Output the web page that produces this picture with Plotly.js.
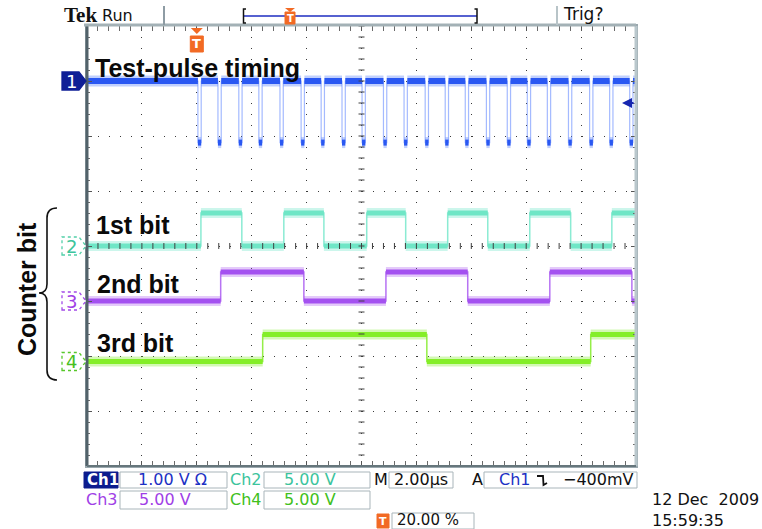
<!DOCTYPE html>
<html><head><meta charset="utf-8">
<script src="https://cdn.plot.ly/plotly-3.0.1.min.js"></script>
<style>html,body{margin:0;padding:0;background:#fff;}#chart{width:762px;height:529px;}</style>
</head><body><div id="chart"></div>
<script>
// ---- data (time in µs, trigger at 0; 2 µs/div; 20 % pre-trigger) ----
const timeRange = [-4, 16];
// Ch1 "Test-pulse timing": falling-edge times of the pulses (µs)
const ch1PulseTimes = [0.04, 0.77, 1.53, 2.26, 3.03, 3.80, 4.53, 5.29, 6.02, 6.80, 7.55,
                       8.32, 9.05, 9.78, 10.55, 11.31, 12.04, 12.77, 13.54, 14.31, 15.04, 15.77];
const ch1PulseWidth = 0.12;          // µs
const ch1Levels = [0, -1.12];        // V  (baseline, pulse bottom) 1 V/div
// Counter bits: transition times (µs), start low
const ch2Edges = [0.15, 1.64, 3.17, 4.63, 6.19, 7.61, 9.14, 10.60, 12.13, 13.62, 15.12];
const ch2Levels = [0, 3.0];          // V, 5 V/div
const ch3Edges = [0.87, 3.90, 6.89, 9.87, 12.86, 15.85];
const ch3Levels = [0, 2.64];
const ch4Edges = [2.40, 8.38, 14.35];
const ch4Levels = [0, 2.46];
const trigLevel = -0.4;              // V on Ch1

// ---- geometry helpers ----
const W = 762, H = 529;
const M = {l: 87, r: 126, t: 26, b: 63};
const PW = W - M.l - M.r, PH = H - M.t - M.b;
const px = x => (x - M.l) / PW;
const py = y => (M.t + PH - y) / PH;
const P = (x, y) => px(x) + ',' + py(y);

function stepXY(edges, levels) {
  const xs = [timeRange[0]], ys = [levels[0]];
  let s = 0;
  edges.forEach(e => { xs.push(e); ys.push(levels[s]); s = 1 - s; xs.push(e); ys.push(levels[s]); });
  xs.push(timeRange[1]); ys.push(levels[s]);
  return {x: xs, y: ys};
}
function levelSegs(edges, levels) {
  const xs = [], ys = [];
  let prev = timeRange[0], s = 0;
  edges.forEach(e => { xs.push(prev, e, null); ys.push(levels[s], levels[s], null); prev = e; s = 1 - s; });
  xs.push(prev, timeRange[1]); ys.push(levels[s], levels[s]);
  return {x: xs, y: ys};
}

const ch1Edges = ch1PulseTimes.flatMap(t => [t, t + ch1PulseWidth]);

const chans = [
  {edges: ch1Edges, levels: ch1Levels, ax: 'y2', core: '#2a58f2', fuzz: 'rgba(50,100,250,0.30)', edge: 'rgba(90,130,255,0.55)', cw: 6, fw: 11, ew: 1.2},
  {edges: ch2Edges, levels: ch2Levels, ax: 'y',  core: '#6fe6c6', fuzz: 'rgba(110,230,200,0.35)', edge: 'rgba(110,230,200,0.8)', cw: 5, fw: 10, ew: 1.5},
  {edges: ch3Edges, levels: ch3Levels, ax: 'y3', core: '#a451f0', fuzz: 'rgba(165,80,240,0.30)', edge: 'rgba(165,80,240,0.8)', cw: 5, fw: 10, ew: 1.5},
  {edges: ch4Edges, levels: ch4Levels, ax: 'y4', core: '#84ee28', fuzz: 'rgba(130,235,40,0.35)', edge: 'rgba(130,235,40,0.85)', cw: 5, fw: 10, ew: 1.5}
];

const traces = [];
chans.forEach(c => {
  const seg = levelSegs(c.edges, c.levels);
  const st = stepXY(c.edges, c.levels);
  traces.push({x: seg.x, y: seg.y, yaxis: c.ax, mode: 'lines', line: {color: c.fuzz, width: c.fw}, hoverinfo: 'skip'});
  traces.push({x: st.x, y: st.y, yaxis: c.ax, mode: 'lines', line: {color: c.edge, width: c.ew}, hoverinfo: 'skip'});
  traces.push({x: seg.x, y: seg.y, yaxis: c.ax, mode: 'lines', line: {color: c.core, width: c.cw}, hoverinfo: 'skip'});
});

// ---- graticule / decorations ----
const shapes = [];
// centre cross tick marks
for (let t = timeRange[0]; t <= timeRange[1] + 1e-9; t += 0.4)
  shapes.push({type: 'line', xref: 'x', yref: 'paper', x0: t, x1: t, y0: 0.5 - 3 / PH, y1: 0.5 + 3 / PH, line: {color: '#404040', width: 1}});
for (let v = -20; v <= 20; v += 1)
  shapes.push({type: 'line', xref: 'paper', yref: 'y', x0: 0.5 - 3 / PW, x1: 0.5 + 3 / PW, y0: v, y1: v, line: {color: '#404040', width: 1}});
// borders
shapes.push({type: 'line', xref: 'paper', yref: 'paper', x0: 0, x1: 0, y0: 0, y1: 1, line: {color: '#52626a', width: 3}});
shapes.push({type: 'line', xref: 'paper', yref: 'paper', x0: 1, x1: 1, y0: 0, y1: 1, line: {color: '#b9c7cc', width: 3}});
shapes.push({type: 'line', xref: 'paper', yref: 'paper', x0: px(84), x1: 1, y0: py(25), y1: py(25), line: {color: '#a3b1b6', width: 3}});
shapes.push({type: 'line', xref: 'paper', yref: 'paper', x0: 0, x1: 1, y0: 0, y1: 0, line: {color: '#66767c', width: 2}});

// channel ground markers
const markerDefs = [
  {ax: 'y2', label: '1', fill: '#0f1f96', line: '#0f1f96', font: '#ffffff', dash: 'solid'},
  {ax: 'y',  label: '2', fill: '#ffffff', line: '#52cfa8', font: '#3cc49c', dash: 'dot'},
  {ax: 'y3', label: '3', fill: '#ffffff', line: '#a24ae8', font: '#a040e6', dash: 'dot'},
  {ax: 'y4', label: '4', fill: '#ffffff', line: '#58c82a', font: '#48c020', dash: 'dot'}
];
const annotations = [];
markerDefs.forEach(m => {
  shapes.push({type: 'path', xref: 'paper', yref: m.ax, xsizemode: 'pixel', ysizemode: 'pixel', xanchor: 0, yanchor: 0,
    path: 'M -25 -9 L -8 -9 L -1 0 L -8 9 L -25 9 Z', fillcolor: m.fill, line: {color: m.line, width: 1.3, dash: m.dash}});
  annotations.push({xref: 'paper', yref: m.ax, x: 0, y: 0, xshift: -16, yshift: 0, text: m.label, showarrow: false,
    xanchor: 'center', yanchor: 'middle', font: {family: 'DejaVu Sans', size: 18, color: m.font}});
});

// trigger level arrow (Ch1)
annotations.push({xref: 'paper', yref: 'y2', x: px(622), y: trigLevel, ax: 13, ay: 0, text: '', showarrow: true,
  arrowhead: 2, arrowsize: 1, arrowwidth: 2, arrowcolor: '#1626b0'});

// trigger position marker (orange T) at t = 0
const orange = '#f26a24';
shapes.push({type: 'path', xref: 'x', yref: 'paper', xsizemode: 'pixel', xanchor: 0,
  path: 'M -6 ' + py(28) + ' L 6 ' + py(28) + ' L 0 ' + py(34) + ' Z', fillcolor: orange, line: {width: 0}});
shapes.push({type: 'rect', xref: 'x', yref: 'paper', xsizemode: 'pixel', xanchor: 0, x0: -6.5, x1: 6.5, y0: py(36), y1: py(52),
  fillcolor: orange, line: {color: orange, width: 1}});
annotations.push({xref: 'x', yref: 'paper', x: 0, y: py(44), text: '<b>T</b>', showarrow: false,
  font: {family: 'DejaVu Sans', size: 13, color: '#ffffff'}, xanchor: 'center', yanchor: 'middle'});

// top status bar
shapes.push({type: 'line', xref: 'paper', yref: 'paper', x0: px(164), x1: px(164), y0: py(6), y1: py(25), line: {color: '#8e9ca4', width: 2}});
shapes.push({type: 'line', xref: 'paper', yref: 'paper', x0: px(557), x1: px(557), y0: py(6), y1: py(25), line: {color: '#b8c4c8', width: 2}});
shapes.push({type: 'line', xref: 'paper', yref: 'paper', x0: px(244), x1: px(477), y0: py(16), y1: py(16), line: {color: '#1e2cc0', width: 1.5}});
shapes.push({type: 'path', xref: 'paper', yref: 'paper', path: 'M ' + P(246, 9) + ' L ' + P(243.5, 9) + ' L ' + P(243.5, 23) + ' L ' + P(246, 23), line: {color: '#111', width: 1.5}});
shapes.push({type: 'path', xref: 'paper', yref: 'paper', path: 'M ' + P(474.5, 9) + ' L ' + P(477, 9) + ' L ' + P(477, 23) + ' L ' + P(474.5, 23), line: {color: '#111', width: 1.5}});
shapes.push({type: 'path', xref: 'paper', yref: 'paper', path: 'M ' + P(285, 8) + ' L ' + P(295, 8) + ' L ' + P(290, 12) + ' Z', fillcolor: orange, line: {width: 0}});
shapes.push({type: 'rect', xref: 'paper', yref: 'paper', x0: px(285), x1: px(295), y0: py(12), y1: py(24), fillcolor: orange, line: {color: orange, width: 1}});
annotations.push({xref: 'paper', yref: 'paper', x: px(290), y: py(18), text: '<b>T</b>', showarrow: false,
  font: {family: 'DejaVu Sans', size: 10, color: '#ffffff'}, xanchor: 'center', yanchor: 'middle'});

const txt = (text, x, y, o) => Object.assign({xref: 'paper', yref: 'paper', x: px(x), y: py(y), text: text, showarrow: false,
  xanchor: 'left', yanchor: 'middle', font: {family: 'DejaVu Sans', size: 16, color: '#111'}}, o || {});

annotations.push(txt('<b>Tek</b>', 62, 15, {font: {family: 'Liberation Serif', size: 21, color: '#111'}}));
annotations.push(txt('Run', 100, 15, {font: {family: 'DejaVu Sans', size: 16, color: '#111'}}));
annotations.push(txt('Trig?', 561, 14, {font: {family: 'DejaVu Sans', size: 17, color: '#111'}}));

// trace labels
const big = {family: 'Liberation Sans, Arial', size: 25, color: '#0a0a0a'};
annotations.push(txt('<b>Test-pulse timing</b>', 93, 68, {font: big}));
annotations.push(txt('<b>1st bit</b>', 94, 225, {font: big}));
annotations.push(txt('<b>2nd bit</b>', 95, 284, {font: big}));
annotations.push(txt('<b>3rd bit</b>', 95, 343, {font: big}));
annotations.push(txt('<b>Counter bit</b>', 27, 289, {font: big, textangle: -90, xanchor: 'center'}));
shapes.push({type: 'path', xref: 'paper', yref: 'paper',
  path: 'M ' + P(57, 208) + ' Q ' + P(47, 208) + ' ' + P(47, 218) + ' L ' + P(47, 284) + ' Q ' + P(47, 293) + ' ' + P(39, 293) +
        ' Q ' + P(47, 293) + ' ' + P(47, 302) + ' L ' + P(47, 370) + ' Q ' + P(47, 380) + ' ' + P(57, 380),
  line: {color: '#111', width: 1.6}});

// bottom readout boxes
const box = (x0, x1, y0, y1, fill, line) => shapes.push({type: 'rect', xref: 'paper', yref: 'paper',
  x0: px(x0), x1: px(x1), y0: py(y1), y1: py(y0), fillcolor: fill || '#ffffff', line: {color: line || '#a9b5ba', width: 1}});
box(84, 118, 472, 488, '#0c1c8e', '#0c1c8e');
box(120, 227, 472, 488); box(264, 370, 472, 488); box(389, 453, 472, 488); box(484, 637, 472, 488);
box(120, 227, 491, 509); box(264, 370, 491, 509);
box(392, 474, 513, 529);
box(377, 389, 514, 528, orange, orange);

annotations.push(txt('<b>Ch1</b>', 85, 480, {font: {family: 'DejaVu Sans', size: 15, color: '#ffffff'}}));
annotations.push(txt('1.00 V Ω', 136, 480, {font: {family: 'DejaVu Sans', size: 16, color: '#1c30c4'}}));
annotations.push(txt('Ch2', 228, 480, {font: {family: 'DejaVu Sans', size: 16, color: '#3cc49c'}}));
annotations.push(txt('5.00 V', 282, 480, {font: {family: 'DejaVu Sans', size: 16, color: '#3cc49c'}}));
annotations.push(txt('M', 372, 480));
annotations.push(txt('2.00µs', 392, 480));
annotations.push(txt('A', 470, 480));
annotations.push(txt('Ch1', 497, 480, {font: {family: 'DejaVu Sans', size: 16, color: '#1c30c4'}}));
shapes.push({type: 'path', xref: 'paper', yref: 'paper',
  path: 'M ' + P(537, 476) + ' L ' + P(543, 476) + ' L ' + P(543.5, 485) + ' L ' + P(547, 483), line: {color: '#111', width: 1.8}});
annotations.push(txt('−400mV', 561, 480));
annotations.push(txt('Ch3', 84, 500, {font: {family: 'DejaVu Sans', size: 16, color: '#a040e6'}}));
annotations.push(txt('5.00 V', 137, 500, {font: {family: 'DejaVu Sans', size: 16, color: '#a040e6'}}));
annotations.push(txt('Ch4', 228, 500, {font: {family: 'DejaVu Sans', size: 16, color: '#40c020'}}));
annotations.push(txt('5.00 V', 282, 500, {font: {family: 'DejaVu Sans', size: 16, color: '#40c020'}}));
annotations.push(txt('<b>T</b>', 383, 521, {xanchor: 'center', font: {family: 'DejaVu Sans', size: 11, color: '#ffffff'}}));
annotations.push(txt('20.00 %', 395, 520, {font: {family: 'DejaVu Sans', size: 15, color: '#111'}}));
annotations.push(txt('12 Dec  2009<br>15:59:35', 650, 510, {align: 'left', font: {family: 'DejaVu Sans', size: 16, color: '#111'}}));

const grid = {showgrid: true, gridcolor: '#3a3a3a', gridwidth: 1, griddash: '1px,10px', showticklabels: false,
  ticks: 'inside', ticklen: 5, tickcolor: '#555', showline: true, linecolor: '#9aa8ae', linewidth: 2,
  mirror: 'allticks', zeroline: false, fixedrange: true};

const layout = {
  width: W, height: H, margin: M, paper_bgcolor: '#ffffff', plot_bgcolor: '#ffffff', showlegend: false, hovermode: false,
  xaxis: Object.assign({}, grid, {range: timeRange, tick0: -4, dtick: 2,
    minor: {tick0: -4, dtick: 0.4, ticks: 'inside', ticklen: 3, tickcolor: '#6a6a6a', showgrid: false}}),
  yaxis: Object.assign({}, grid, {range: [-20, 20], tick0: -20, dtick: 5,
    minor: {tick0: -20, dtick: 1, ticks: 'inside', ticklen: 3, tickcolor: '#6a6a6a', showgrid: false}}),
  yaxis2: {overlaying: 'y', range: [-7, 1], visible: false, fixedrange: true},
  yaxis3: {overlaying: 'y', range: [-15, 25], visible: false, fixedrange: true},
  yaxis4: {overlaying: 'y', range: [-9.5, 30.5], visible: false, fixedrange: true},
  shapes: shapes, annotations: annotations
};
Plotly.newPlot('chart', traces, layout, {staticPlot: true, displayModeBar: false});
</script></body></html>
